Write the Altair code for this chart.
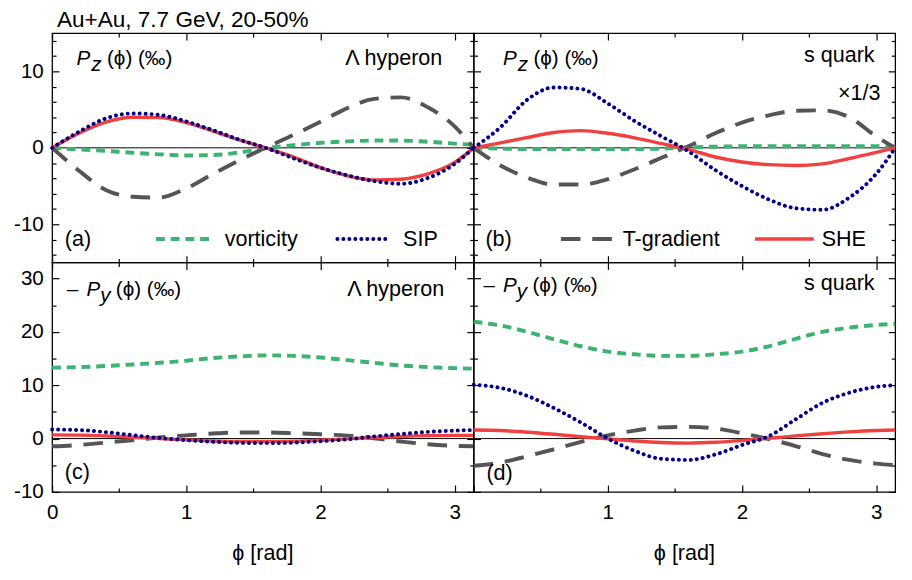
import altair as alt
import pandas as pd

# ---------------- data ----------------
PHI = [0.0, 0.2, 0.4, 0.6, 0.8, 1.0, 1.2, 1.4, 1.6, 1.8, 2.0, 2.2, 2.4, 2.6, 2.8, 3.0, 3.1416]

# (a) Lambda hyperon, P_z
A_VORT = [0, -0.2, -0.4, -0.65, -0.85, -1.0, -0.95, -0.6, -0.05, 0.35, 0.65, 0.85, 0.95, 0.95, 0.8, 0.55, 0.4]
A_SIP = [0, 2.1, 3.85, 4.5, 4.3, 3.45, 2.3, 1.05, -0.05, -1.37, -2.6, -3.6, -4.35, -4.7, -3.95, -2.1, 0]
A_SHE = [0, 1.9, 3.35, 4.0, 3.95, 3.3, 2.2, 1.0, -0.05, -1.2, -2.6, -3.65, -4.2, -4.1, -3.4, -1.9, 0]
A_TGR = [0, -3.0, -5.5, -6.4, -6.5, -5.3, -3.4, -1.6, 0.1, 1.7, 3.4, 5.2, 6.4, 6.6, 5.3, 2.8, 0]

# (b) s quark, P_z (x 1/3)
B_VORT = [0, -0.1, -0.15, -0.15, -0.15, -0.15, -0.15, -0.1, 0.05, 0.15, 0.2, 0.2, 0.2, 0.2, 0.2, 0.2, 0.15]
B_SIP = [0, 2.7, 6.3, 7.9, 7.7, 5.8, 3.5, 1.5, -0.45, -2.9, -5.0, -6.75, -7.9, -8.1, -6.5, -3.4, 0]
B_SHE = [0, 0.65, 1.35, 2.0, 2.25, 1.9, 1.3, 0.55, -0.2, -1.2, -1.85, -2.2, -2.3, -2.1, -1.4, -0.6, 0]
B_TGR = [0, -2.3, -3.9, -4.8, -4.8, -4.1, -2.8, -1.3, 0.2, 1.9, 3.3, 4.25, 4.85, 4.9, 4.0, 1.5, 0]

# (c) Lambda hyperon, -P_y
C_VORT = [13.3, 13.4, 13.6, 13.9, 14.2, 14.6, 15.1, 15.4, 15.6, 15.5, 15.2, 14.7, 14.2, 13.7, 13.4, 13.2, 13.1]
C_SIP = [1.7, 1.6, 1.2, 0.65, 0.1, -0.3, -0.6, -0.8, -0.85, -0.75, -0.5, -0.15, 0.4, 0.85, 1.25, 1.5, 1.6]
C_SHE = [0.7, 0.65, 0.5, 0.25, 0.0, -0.25, -0.45, -0.55, -0.55, -0.5, -0.3, -0.05, 0.2, 0.4, 0.55, 0.6, 0.6]
C_TGR = [-1.45, -1.2, -0.75, -0.3, 0.2, 0.6, 0.95, 1.15, 1.15, 1.0, 0.8, 0.55, 0.05, -0.55, -1.05, -1.35, -1.45]

# (d) s quark, -P_y
D_VORT = [21.9, 21.2, 20.0, 18.6, 17.3, 16.3, 15.8, 15.5, 15.5, 15.8, 16.3, 17.3, 18.7, 20.0, 20.8, 21.3, 21.5]
D_SIP = [10.1, 9.5, 8.0, 5.7, 3.0, 0.0, -2.3, -3.8, -4.0, -3.0, -1.2, 0.45, 3.6, 6.7, 8.6, 9.7, 10.0]
D_SHE = [1.6, 1.5, 1.2, 0.8, 0.35, -0.05, -0.45, -0.75, -0.85, -0.7, -0.35, 0.05, 0.5, 0.9, 1.25, 1.5, 1.6]
D_TGR = [-5.1, -4.5, -3.3, -2.0, -0.6, 0.6, 1.5, 2.1, 2.2, 1.9, 1.0, -0.1, -1.4, -2.9, -4.0, -4.7, -5.0]

SERIES = ["vorticity", "T-gradient", "SHE", "SIP"]
X_MAJOR = [0, 1, 2, 3]
X_MINOR = [0.5, 1.5, 2.5]
TOP_Y_MAJOR = [-10, 0, 10]
TOP_Y_MINOR = [-14, -12, -8, -6, -4, -2, 2, 4, 6, 8, 12, 14]
BOT_Y_MAJOR = [-10, 0, 10, 20, 30]
BOT_Y_MINOR = [-5, 5, 15, 25]

# ---------------- styles ----------------
FONT = "Liberation Sans"
STYLE = {
    "vorticity": dict(color="#3cb371", strokeWidth=4, strokeDash=[9, 6]),
    "T-gradient": dict(color="#555555", strokeWidth=4, strokeDash=[20, 12]),
    "SHE": dict(color="#f04040", strokeWidth=3.5),
    "SIP": dict(color="#00008b", strokeWidth=4, strokeDash=[0.1, 6], strokeCap="round"),
}
W = 430
H_TOP = 234
H_BOT = 234
XDOM = [0, 3.1416]
dummy = pd.DataFrame({"a": [0]})


def make_axis(orient, values, size, labels=False, label_expr=None):
    kw = dict(orient=orient, values=values, tickSize=size, offset=-size, domain=False,
              grid=False, ticks=True, tickColor="black", tickWidth=1.2, labels=labels, title=None)
    if labels:
        kw.update(labelFont=FONT, labelFontSize=21, labelColor="black", labelFlush=False,
                  labelOverlap=False, labelPadding=9 if orient in ("left", "right") else 10,
                  labelExpr=label_expr or "'' + datum.value")
    return alt.Axis(**kw)


def text(t, x, y, size=21, align="left", style="normal"):
    return alt.Chart(dummy).mark_text(
        text=t, align=align, baseline="alphabetic", font=FONT, fontSize=size,
        fontStyle=style, color="black"
    ).encode(x=alt.value(x), y=alt.value(y))


def legend_line(name, x1, x2, y):
    return alt.Chart(dummy).mark_rule(**STYLE[name]).encode(
        x=alt.value(x1), x2=alt.value(x2), y=alt.value(y))


def panel(vals, ydom, ymaj, ymin, h, xlabels, ylabels, x_label_expr, extras):
    xs = alt.Scale(domain=XDOM, nice=False, zero=False)
    ys = alt.Scale(domain=ydom, nice=False, zero=False)
    axes = [
        (make_axis("bottom", X_MAJOR, 7, xlabels, x_label_expr), make_axis("left", ymaj, 7, ylabels)),
        (make_axis("bottom", X_MINOR, 4), make_axis("left", ymin, 4)),
        (make_axis("top", X_MAJOR, 7), make_axis("right", ymaj, 7)),
        (make_axis("top", X_MINOR, 4), make_axis("right", ymin, 4)),
    ]
    zero = alt.Chart(dummy).mark_rule(color="black", strokeWidth=1).encode(
        y=alt.YDatum(0, scale=ys, axis=None))
    layers = [zero]
    for (xa, ya), name in zip(axes, SERIES):
        df = pd.DataFrame({"phi": PHI, "v": vals[name]})
        layers.append(
            alt.Chart(df).mark_line(interpolate="monotone", **STYLE[name]).encode(
                x=alt.X("phi:Q", scale=xs, axis=xa),
                y=alt.Y("v:Q", scale=ys, axis=ya),
            )
        )
    layers += extras
    return alt.layer(*layers).resolve_axis(x="independent", y="independent").properties(
        width=W, height=h)


def pz_label(x0, y0):
    return [text("P", x0, y0, 21, style="italic"),
            text("z", x0 + 15, y0 + 7, 21, style="italic"),
            text("(ϕ) (‰)", x0 + 31, y0, 21)]


def py_label(x0, y0):
    return [text("–", x0, y0, 21),
            text("P", x0 + 20, y0, 21, style="italic"),
            text("y", x0 + 34, y0 + 6, 21, style="italic"),
            text("(ϕ) (‰)", x0 + 50, y0, 21)]


pa = panel(
    {"vorticity": A_VORT, "T-gradient": A_TGR, "SHE": A_SHE, "SIP": A_SIP},
    [-15, 15], TOP_Y_MAJOR, TOP_Y_MINOR, H_TOP, False, True, None,
    [text("Au+Au, 7.7 GeV, 20-50%", 5, -6, 23)] + pz_label(25, 32) + [
        text("Λ hyperon", 398, 32, 22, align="right"),
        text("(a)", 13, 217, 22),
        legend_line("vorticity", 106, 166, 210),
        text("vorticity", 176, 217, 22),
        legend_line("SIP", 291, 345, 210),
        text("SIP", 358, 217, 22),
    ],
)

pb = panel(
    {"vorticity": B_VORT, "T-gradient": B_TGR, "SHE": B_SHE, "SIP": B_SIP},
    [-15, 15], TOP_Y_MAJOR, TOP_Y_MINOR, H_TOP, False, False, None,
    pz_label(30, 32) + [
        text("s quark", 409, 29, 22, align="right"),
        text("×1/3", 415, 68, 22, align="right"),
        text("(b)", 12, 217, 22),
        legend_line("T-gradient", 89, 149, 210),
        text("T-gradient", 152, 217, 22),
        legend_line("SHE", 287, 347, 210),
        text("SHE", 355, 217, 22),
    ],
)

pc = panel(
    {"vorticity": C_VORT, "T-gradient": C_TGR, "SHE": C_SHE, "SIP": C_SIP},
    [-10, 33], BOT_Y_MAJOR, BOT_Y_MINOR, H_BOT, True, True, None,
    py_label(15, 34) + [
        text("Λ hyperon", 400, 34, 22, align="right"),
        text("(c)", 13, 221, 22),
        text("ϕ [rad]", W / 2, H_BOT + 69, 22, align="center"),
    ],
)

pd_ = panel(
    {"vorticity": D_VORT, "T-gradient": D_TGR, "SHE": D_SHE, "SIP": D_SIP},
    [-10, 33], BOT_Y_MAJOR, BOT_Y_MINOR, H_BOT, True, False,
    "datum.value == 0 ? '' : '' + datum.value",
    py_label(10, 30) + [
        text("s quark", 409, 28, 22, align="right"),
        text("(d)", 13, 222, 22),
        text("ϕ [rad]", W / 2, H_BOT + 69, 22, align="center"),
    ],
)

chart = alt.concat(
    pa, pb, pc, pd_, columns=2, spacing=0, bounds="flush",
).properties(
    padding={"left": 4, "top": -5, "right": 0, "bottom": 0}
).configure_view(stroke="black", strokeWidth=1.3)

chart.save("out.html", embed_options={"renderer": "svg", "actions": False})
